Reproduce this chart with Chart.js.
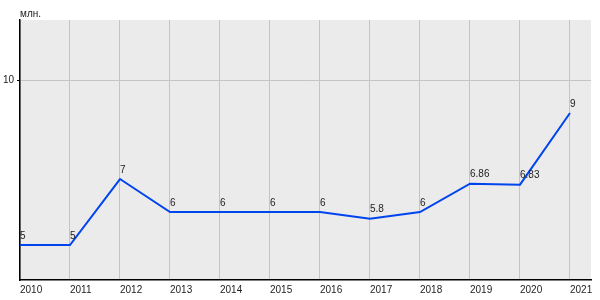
<!DOCTYPE html>
<html>
<head>
<meta charset="utf-8">
<script src="https://cdn.jsdelivr.net/npm/chart.js@4"></script>
<style>
    html, body { margin: 0; padding: 0; background: #ffffff; }
    #wrap { width: 600px; height: 300px; }
</style>
</head>
<body>
<div id="wrap"><canvas id="chart"></canvas></div>
<script>
const YEARS = [2010, 2011, 2012, 2013, 2014, 2015, 2016, 2017, 2018, 2019, 2020, 2021];
const VALUES = [5, 5, 7, 6, 6, 6, 6, 5.8, 6, 6.86, 6.83, 9];
const VALUE_LABELS = ['5', '5', '7', '6', '6', '6', '6', '5.8', '6', '6.86', '6.83', '9'];
const Y_TICKS = [10];
const UNIT = 'млн.';

const FONT = 'Liberation Sans, Arial, sans-serif';

const plotBackground = {
    id: 'plotBackground',
    beforeDraw(chart) {
        const { ctx, chartArea: a } = chart;
        ctx.save();
        ctx.fillStyle = '#ebebeb';
        ctx.fillRect(a.left, a.top, a.right - a.left, a.bottom - a.top);
        ctx.restore();
    },
};

const pointLabels = {
    id: 'pointLabels',
    afterDatasetsDraw(chart) {
        const { ctx } = chart;
        const meta = chart.getDatasetMeta(0);
        ctx.save();
        ctx.font = '10px ' + FONT;
        ctx.fillStyle = '#222222';
        ctx.textAlign = 'left';
        ctx.textBaseline = 'bottom';
        meta.data.forEach((pt, i) => {
            ctx.fillText(VALUE_LABELS[i], pt.x, pt.y - 4);
        });
        // unit caption above the y axis
        ctx.textBaseline = 'middle';
        ctx.fillText(UNIT, chart.chartArea.left, 14);
        ctx.restore();
    },
};

new Chart(document.getElementById('chart'), {
    type: 'line',
    data: {
        datasets: [{
            data: YEARS.map((y, i) => ({ x: y, y: VALUES[i] })),
            borderColor: '#0044ee',
            borderWidth: 2,
            pointRadius: 0,
            tension: 0,
            fill: false,
            clip: false,
        }],
    },
    options: {
        responsive: true,
        maintainAspectRatio: false,
        animation: false,
        layout: { padding: { top: 20, right: 9, left: 0, bottom: 0 } },
        scales: {
            x: {
                type: 'linear',
                min: 2010,
                max: 2021.42,
                afterBuildTicks: s => { s.ticks = YEARS.map(v => ({ value: v })); },
                afterFit: s => { s.height = 20; },
                ticks: {
                    color: '#222222',
                    font: { family: FONT, size: 10 },
                    align: 'start',
                    padding: 4,
                    maxRotation: 0,
                    autoSkip: false,
                    callback: v => String(v),
                },
                grid: { color: '#c4c4c4', lineWidth: 1, drawTicks: false },
                border: { color: '#000000', width: 1.5 },
            },
            y: {
                min: 3.94,
                max: 11.82,
                afterBuildTicks: s => { s.ticks = Y_TICKS.map(v => ({ value: v })); },
                afterFit: s => { s.width = 20; },
                ticks: {
                    color: '#222222',
                    font: { family: FONT, size: 10 },
                    padding: 3,
                },
                grid: { color: '#c4c4c4', lineWidth: 1, tickLength: 3, tickColor: '#000000' },
                border: { color: '#000000', width: 1.5 },
            },
        },
        plugins: {
            legend: { display: false },
            tooltip: { enabled: false },
        },
    },
    plugins: [plotBackground, pointLabels],
});
</script>
</body>
</html>
